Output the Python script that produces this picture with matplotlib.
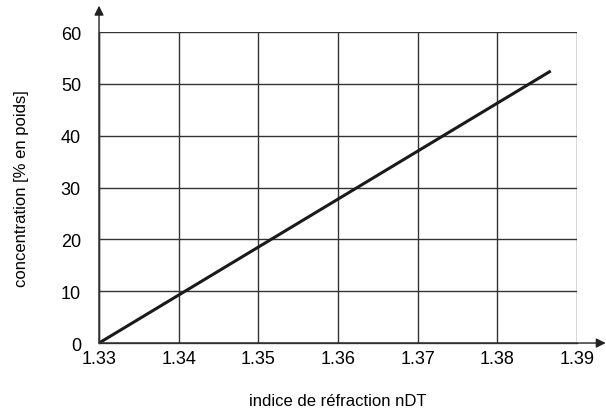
import matplotlib
matplotlib.use('Agg')
import matplotlib.pyplot as plt

# indice de réfraction vs concentration
indice = [1.33, 1.3867]
concentration = [0, 52.5]

x_ticks = [1.33, 1.34, 1.35, 1.36, 1.37, 1.38, 1.39]
y_ticks = [0, 10, 20, 30, 40, 50, 60]

plt.rcParams['font.family'] = ['Liberation Sans', 'DejaVu Sans']

fig = plt.figure(figsize=(6.06, 4.14), dpi=100)
ax = fig.add_axes([0.1634, 0.169, 0.7888, 0.751])

ax.plot(indice, concentration, color='#1a1a1a', linewidth=2.2, solid_capstyle='butt')

ax.set_xlim(1.33, 1.39)
ax.set_ylim(0, 60)
ax.set_xticks(x_ticks)
ax.set_yticks(y_ticks)
ax.set_xticklabels([f'{v:.2f}' for v in x_ticks])
ax.grid(True, color='#333333', linewidth=1.0)
ax.set_axisbelow(True)
ax.tick_params(axis='x', length=0, labelsize=13, pad=5)
ax.tick_params(axis='y', length=0, labelsize=13, pad=13)

for s in ['top', 'right']:
    ax.spines[s].set_visible(False)
for s in ['left', 'bottom']:
    ax.spines[s].set_color('#555555')
    ax.spines[s].set_linewidth(1.0)

# flèches des axes
ax.annotate('', xy=(0, 1.085), xytext=(0, 0), xycoords='axes fraction',
            arrowprops=dict(arrowstyle='-|>', color='#222222', lw=1.0,
                            mutation_scale=14, shrinkA=0, shrinkB=0),
            annotation_clip=False)
ax.annotate('', xy=(1.06, 0), xytext=(0, 0), xycoords='axes fraction',
            arrowprops=dict(arrowstyle='-|>', color='#222222', lw=1.0,
                            mutation_scale=14, shrinkA=0, shrinkB=0),
            annotation_clip=False)

ax.set_xlabel('indice de réfraction nDT', fontsize=12, labelpad=19)
ax.set_ylabel('concentration [% en poids]', fontsize=12, labelpad=23)

fig.savefig('out.png', dpi=100)
